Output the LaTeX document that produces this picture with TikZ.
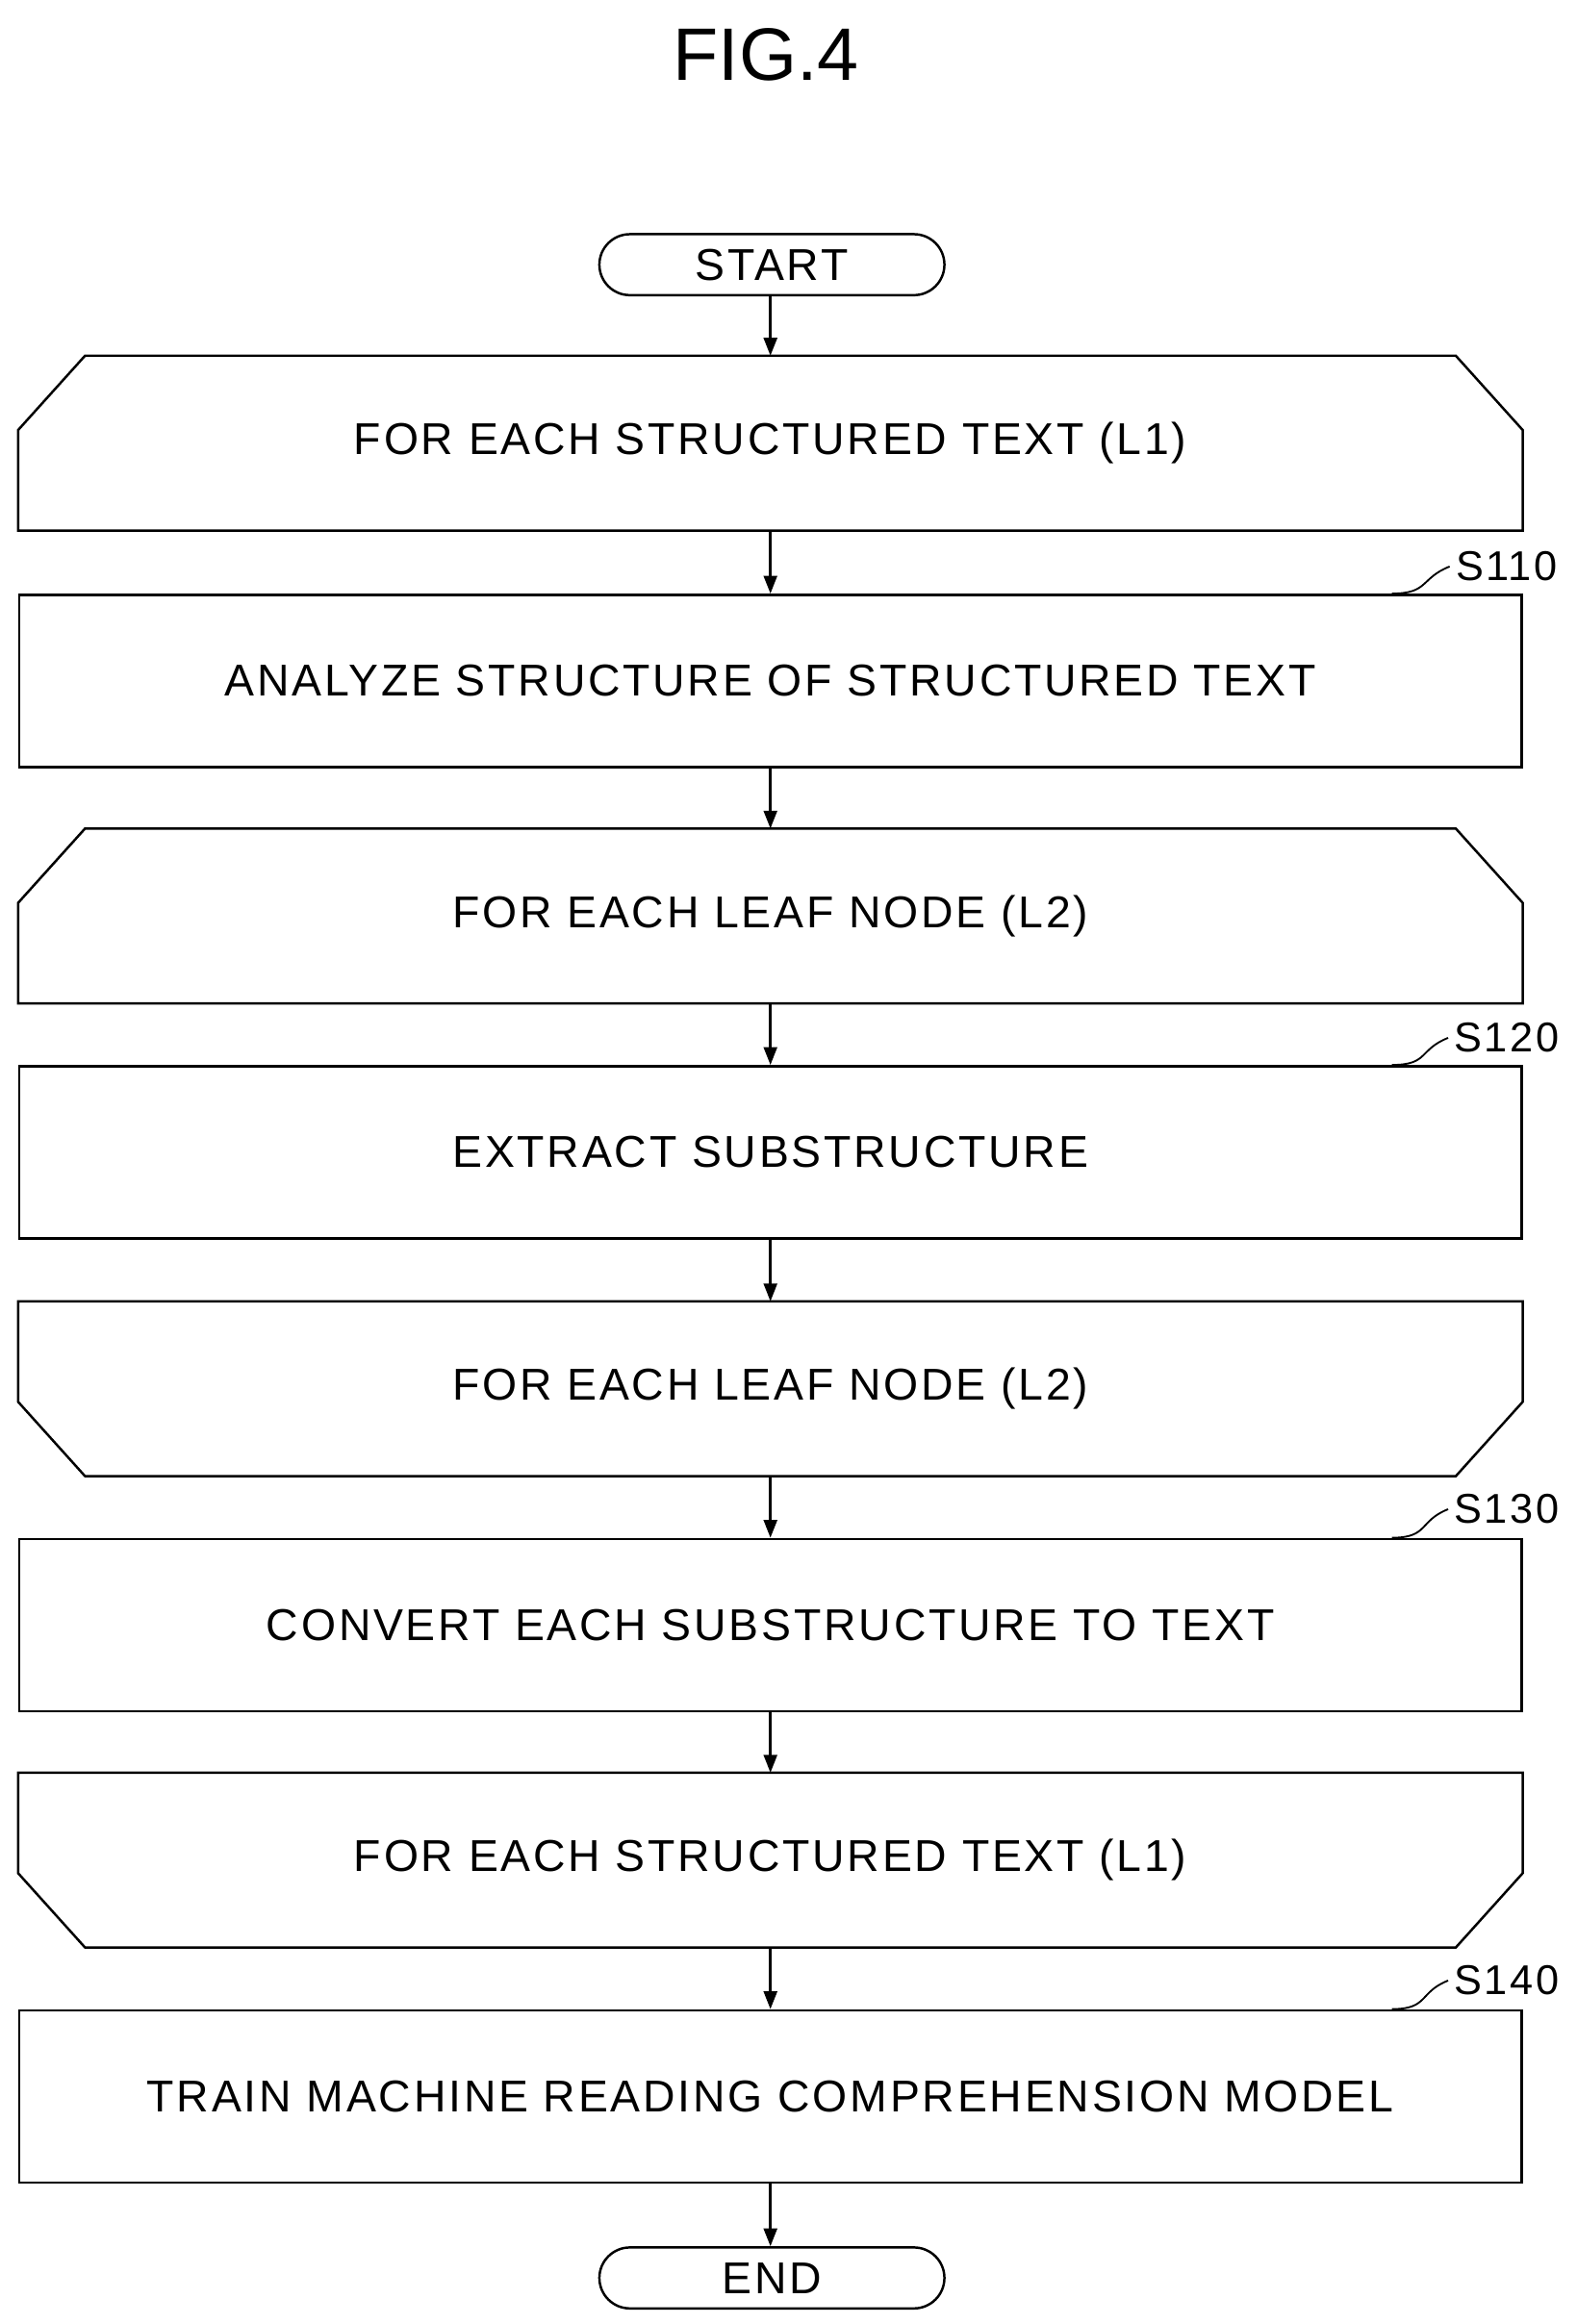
\documentclass[tikz,border=0pt]{standalone}
\usepackage{fontspec}
\setmainfont{Liberation Sans}[LetterSpace=6]
\newfontfamily\titlefont{Liberation Sans}
\usetikzlibrary{shapes.misc,calc,arrows.meta}
\begin{document}
\begin{tikzpicture}[x=1pt,y=-1pt,line width=1.6pt,
  txt/.style={font=\fontsize{30}{32}\selectfont},
  stepbox/.style={draw,rectangle,minimum width=1010pt,minimum height=116pt,inner sep=0pt,txt},
  loopbox/.style={rectangle,minimum width=1010pt,minimum height=116pt,inner sep=0pt,txt},
  term/.style={draw,rounded rectangle,minimum width=232pt,minimum height=41pt,inner sep=0pt,txt},
  arr/.style={-{Triangle[length=12pt,width=9pt]},line width=1.6pt},
  lab/.style={font=\fontsize{28}{30}\selectfont,anchor=center}]
\useasboundingbox (0,0) rectangle (1060,1563);
\node[font=\titlefont\fontsize{50}{52}\selectfont] (title) at (515,37) {FIG.4};
\node[term] (start) at (519,178) {START};
\node[loopbox] (l1a) at (518,298) {FOR EACH STRUCTURED TEXT (L1)};
\node[stepbox] (s110) at (518,458) {ANALYZE STRUCTURE OF STRUCTURED TEXT};
\node[loopbox] (l2a) at (518,616) {FOR EACH LEAF NODE (L2)};
\node[stepbox] (s120) at (518,775) {EXTRACT SUBSTRUCTURE};
\node[loopbox] (l2b) at (518,934) {FOR EACH LEAF NODE (L2)};
\node[stepbox] (s130) at (518,1093) {CONVERT EACH SUBSTRUCTURE TO TEXT};
\node[loopbox] (l1b) at (518,1251) {FOR EACH STRUCTURED TEXT (L1)};
\node[stepbox] (s140) at (518,1410) {TRAIN MACHINE READING COMPREHENSION MODEL};
\node[term] (end) at (519,1532) {END};
\foreach \n in {l1a,l2a}
  \draw ($(\n.north west)+(45,0)$) -- ($(\n.north east)+(-45,0)$) -- ($(\n.north east)+(0,50)$)
    -- (\n.south east) -- (\n.south west) -- ($(\n.north west)+(0,50)$) -- cycle;
\foreach \n in {l2b,l1b}
  \draw (\n.north west) -- (\n.north east) -- ($(\n.south east)+(0,-50)$)
    -- ($(\n.south east)+(-45,0)$) -- ($(\n.south west)+(45,0)$) -- ($(\n.south west)+(0,-50)$) -- cycle;
\foreach \a/\b in {start/l1a,l1a/s110,s110/l2a,l2a/s120,s120/l2b,l2b/s130,s130/l1b,l1b/s140,s140/end}
  \draw[arr] (\a.south -| 518,0) -- (\b.north -| 518,0);
\foreach \s/\y in {s110/381,s120/698,s130/1015,s140/1332}{
  \node[lab] (lab\s) at (1013,\y) {\MakeUppercase{\s}};
  \coordinate (c\s) at ($(\s.north east)+(-88,0)$);
  \draw[line width=1.2pt] (c\s) .. controls +(25,0) and +(-20,8) .. (lab\s.west);
}
\end{tikzpicture}
\end{document}
